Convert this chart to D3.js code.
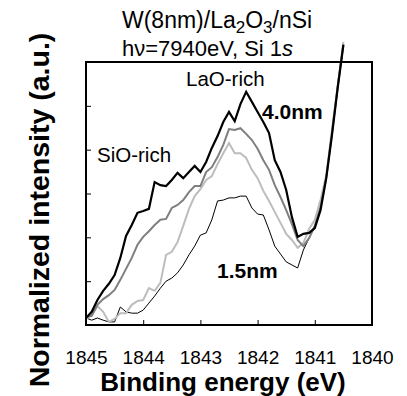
<!DOCTYPE html>
<html>
<head>
<meta charset="utf-8">
<script src="https://cdn.jsdelivr.net/npm/d3@7"></script>
<style>
  html, body { margin: 0; padding: 0; background: #fff; }
  svg { display: block; }
  text { font-family: "Liberation Sans", Arial, sans-serif; fill: #000; }
</style>
</head>
<body>
<svg id="chart" width="407" height="396"></svg>
<script>
// Binding energy (eV), x positions of samples
const energy = [1845.0,1844.9,1844.8,1844.7,1844.6,1844.5,1844.4,1844.3,1844.2,1844.1,
  1844.0,1843.9,1843.8,1843.7,1843.6,1843.5,1843.4,1843.3,1843.2,1843.1,
  1843.0,1842.9,1842.8,1842.7,1842.6,1842.5,1842.4,1842.3,1842.2,1842.1,
  1842.0,1841.9,1841.8,1841.7,1841.6,1841.5,1841.4,1841.3,1841.2,1841.1,
  1841.0,1840.9,1840.8,1840.7,1840.6,1840.5];

// Normalized intensity (a.u.)
const thick40 = [0.16,0.30,0.57,0.78,0.94,1.14,1.53,2.03,2.28,2.56,
  2.60,2.65,3.26,3.19,3.17,3.31,3.47,3.35,3.49,3.63,
  3.49,3.72,4.04,4.31,4.63,4.86,4.65,5.04,5.32,5.09,
  4.86,4.63,4.38,3.76,3.49,3.08,2.46,2.01,2.08,2.10,
  2.21,2.62,3.35,4.33,5.41,6.39];
const darkGray = [0.18,0.21,0.46,0.59,0.68,0.80,1.03,1.28,1.53,1.83,
  2.01,2.14,2.28,2.40,2.42,2.67,2.74,2.85,3.03,3.17,
  3.17,3.49,3.60,3.83,4.11,4.47,4.45,4.49,4.36,4.22,
  4.02,3.76,3.54,3.19,2.92,2.62,2.30,1.94,1.80,1.98,
  2.26,2.69,3.35,4.38,5.43,6.41];
const lightGray = [0.14,0.23,0.43,0.30,0.07,0.14,0.27,0.27,0.46,0.55,
  0.57,0.84,0.78,0.96,1.60,1.67,1.89,2.26,2.65,2.94,
  3.10,3.31,3.40,3.67,3.92,4.15,3.92,3.92,3.81,3.54,
  3.35,3.06,2.83,2.58,2.33,2.08,1.94,1.76,1.87,2.19,
  2.40,2.85,3.42,4.45,5.45,6.46];
const thin15 = [0.16,0.11,0.16,0.11,0.07,0.07,0.41,0.30,0.27,0.27,
  0.34,0.50,0.66,0.84,1.00,1.07,1.19,1.37,1.60,1.80,
  2.05,2.10,2.40,2.83,2.85,2.90,2.90,2.94,2.94,2.67,
  2.53,2.51,2.17,1.80,1.62,1.44,1.37,1.30,1.71,1.98,
  2.28,2.67,3.35,4.33,5.38,6.37];

const xTicks = [1845, 1844, 1843, 1842, 1841, 1840];
const yTicks = [0, 1, 2, 3, 4, 5, 6];

const svg = d3.select("#chart");
const L = 86, R = 372, T = 62, B = 325;
const x = d3.scaleLinear().domain([1845, 1840]).range([L, R]);
const y = d3.scaleLinear().domain([0, 6]).range([B, T]);

// axes (inward ticks)
const xAxis = d3.axisBottom(x).tickValues(xTicks).tickFormat(d3.format("d"))
  .tickSizeInner(-5).tickSizeOuter(0).tickPadding(26);
const gx = svg.append("g").attr("transform", `translate(0,${B})`).call(xAxis);
gx.select(".domain").remove();
gx.selectAll("line").attr("stroke", "#000").attr("stroke-width", 1);
gx.selectAll("text").attr("font-size", 19).attr("font-family", "Liberation Sans, Arial, sans-serif").attr("fill", "#000");

const yAxis = d3.axisLeft(y).tickValues(yTicks).tickFormat("")
  .tickSizeInner(-5).tickSizeOuter(0);
const gy = svg.append("g").attr("transform", `translate(${L},0)`).call(yAxis);
gy.select(".domain").remove();
gy.selectAll("line").attr("stroke", "#000").attr("stroke-width", 1);

// series
const series = [
  {vals: thin15, color: "#000", w: 1},
  {vals: lightGray, color: "#bdbdbd", w: 2},
  {vals: darkGray, color: "#7f7f7f", w: 2},
  {vals: thick40, color: "#000", w: 2.2}
];
const line = d3.line().x(d => x(d[0])).y(d => y(d[1]));
series.forEach(s => {
  svg.append("path")
    .datum(energy.map((e, i) => [e, s.vals[i]]))
    .attr("d", line)
    .attr("fill", "none")
    .attr("stroke", s.color)
    .attr("stroke-width", s.w)
    .attr("stroke-linejoin", "miter");
});

// frame
svg.append("rect").attr("x", L).attr("y", T).attr("width", R - L).attr("height", B - T)
  .attr("fill", "none").attr("stroke", "#000").attr("stroke-width", 2);

// title
const t1 = svg.append("text").attr("x", 122).attr("y", 28).attr("font-size", 23);
t1.append("tspan").text("W(8nm)/La");
t1.append("tspan").attr("font-size", 17).attr("dy", 5).text("2");
t1.append("tspan").attr("dy", -5).text("O");
t1.append("tspan").attr("font-size", 17).attr("dy", 5).text("3");
t1.append("tspan").attr("dy", -5).text("/nSi");
const t2 = svg.append("text").attr("x", 122).attr("y", 56).attr("font-size", 22);
t2.append("tspan").text("h\u03bd=7940eV, Si 1");
t2.append("tspan").attr("font-style", "italic").text("s");

// axis titles
svg.append("text").attr("x", 223).attr("y", 391).attr("text-anchor", "middle")
  .attr("font-size", 26).attr("font-weight", "bold").text("Binding energy (eV)");
svg.append("text").attr("transform", "translate(49,210) rotate(-90)").attr("text-anchor", "middle")
  .attr("font-size", 28.5).attr("font-weight", "bold").text("Normalized intensity (a.u.)");

// annotations
svg.append("text").attr("x", 186).attr("y", 86).attr("font-size", 20.5).text("LaO-rich");
svg.append("text").attr("x", 97).attr("y", 162).attr("font-size", 20.5).text("SiO-rich");
svg.append("text").attr("x", 262).attr("y", 119).attr("font-size", 21).attr("font-weight", "bold").text("4.0nm");
svg.append("text").attr("x", 217).attr("y", 278).attr("font-size", 21).attr("font-weight", "bold").text("1.5nm");
</script>
</body>
</html>
